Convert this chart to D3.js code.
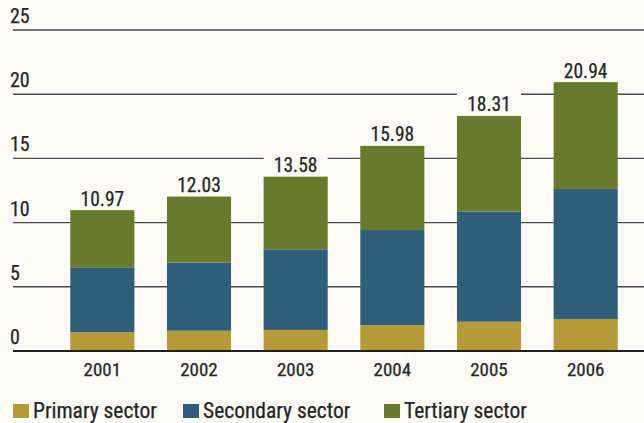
<!DOCTYPE html>
<html>
<head>
<meta charset="utf-8">
<script src="https://cdn.jsdelivr.net/npm/d3@7"></script>
<style>
  html, body { margin: 0; padding: 0; background: #fcfbf6; }
  svg { display: block; }
  text { font-family: "Liberation Sans Narrow", "Roboto Condensed", "DejaVu Sans Condensed", sans-serif; fill: #262626; stroke: #262626; stroke-width: 0.25; }
</style>
</head>
<body>
<svg id="chart" width="644" height="423"></svg>
<script>
// Annual output by sector, 2001–2006
const years = ["2001", "2002", "2003", "2004", "2005", "2006"];
const primary   = [1.46, 1.58, 1.64, 2.02, 2.28, 2.47];
const secondary = [5.06, 5.30, 6.28, 7.40, 8.57, 10.15];
const tertiary  = [4.45, 5.15, 5.66, 6.56, 7.46, 8.32];
const totals    = [10.97, 12.03, 13.58, 15.98, 18.31, 20.94];
const yTicks    = [0, 5, 10, 15, 20, 25];
const seriesNames = ["Primary sector", "Secondary sector", "Tertiary sector"];
const seriesColors = ["#b59a3a", "#2f5e79", "#6a7a2c"];

const svg = d3.select("#chart");

const x = d3.scaleBand().domain(years).range([54, 634]).paddingInner(0.337).paddingOuter(0.1685);
const y = d3.scaleLinear().domain([0, 25]).range([351, 30]);

// gridlines with value labels sitting above them
const grid = svg.append("g");
grid.selectAll("line").data(yTicks.filter(d => d > 0)).join("line")
  .attr("x1", 13).attr("x2", 644)
  .attr("y1", d => y(d)).attr("y2", d => y(d))
  .attr("stroke", "#4a4a4a").attr("stroke-width", 1.4);
grid.selectAll("text").data(yTicks).join("text")
  .attr("x", 10).attr("y", d => y(d) - 7)
  .attr("font-size", 20)
  .text(d => d);

// stacked bars
const rows = years.map((yr, i) => ({ year: yr, p: primary[i], s: secondary[i], t: tertiary[i] }));
const stack = d3.stack().keys(["p", "s", "t"])(rows);

svg.append("g").selectAll("g").data(stack).join("g")
  .attr("fill", (d, i) => seriesColors[i])
  .selectAll("rect").data(d => d).join("rect")
  .attr("x", d => x(d.data.year))
  .attr("width", x.bandwidth())
  .attr("y", d => y(d[1]))
  .attr("height", d => y(d[0]) - y(d[1]));

// total labels on a clear patch above each bar
const lab = svg.append("g");
lab.selectAll("rect").data(years).join("rect")
  .attr("x", d => x(d))
  .attr("width", x.bandwidth())
  .attr("y", (d, i) => y(totals[i]) - 24)
  .attr("height", 23.5)
  .attr("fill", "#fcfbf6");
lab.selectAll("text").data(years).join("text")
  .attr("x", d => x(d) + x.bandwidth() / 2)
  .attr("y", (d, i) => y(totals[i]) - 4.5)
  .attr("text-anchor", "middle")
  .attr("font-size", 19.5)
  .text((d, i) => totals[i].toFixed(2));

// baseline
svg.append("line")
  .attr("x1", 13).attr("x2", 644)
  .attr("y1", y(0)).attr("y2", y(0))
  .attr("stroke", "#1e1e1e").attr("stroke-width", 2.2);

// year axis
const xAxis = svg.append("g").attr("transform", `translate(0,${y(0)})`)
  .call(d3.axisBottom(x).tickSize(0).tickPadding(12));
xAxis.select(".domain").remove();
xAxis.selectAll("text")
  .attr("font-size", 19)
  .attr("font-family", null)
  .attr("fill", null);

// legend
const legendX = [13, 183, 384];
const legend = svg.append("g").selectAll("g").data(seriesNames).join("g")
  .attr("transform", (d, i) => `translate(${legendX[i]},404)`);
legend.append("rect").attr("width", 16).attr("height", 14)
  .attr("fill", (d, i) => seriesColors[i]);
legend.append("text").attr("x", 20).attr("y", 14)
  .attr("font-size", 21.5)
  .text(d => d);
</script>
</body>
</html>
